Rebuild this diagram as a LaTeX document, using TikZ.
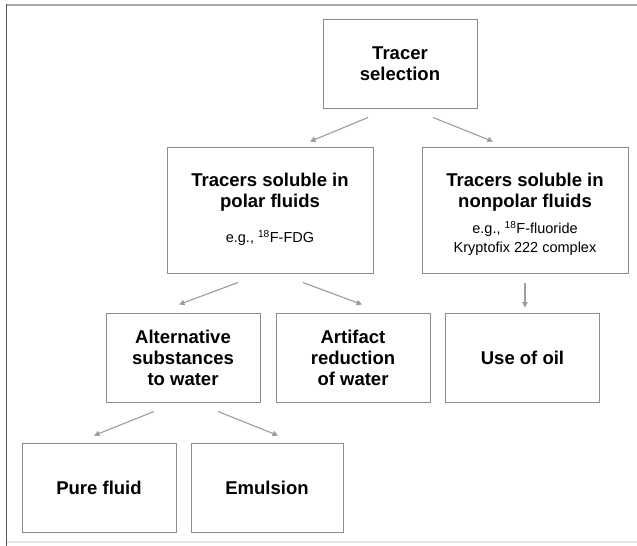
\documentclass[tikz,border=0pt]{standalone}
\usepackage{fontspec}
\setmainfont{Liberation Sans}
\usetikzlibrary{arrows.meta}
\definecolor{boxgray}{HTML}{8C8C8C}
\definecolor{arrgray}{HTML}{9C9C9C}
\definecolor{topgray}{HTML}{A8A8A8}
\definecolor{leftgray}{HTML}{555555}
\definecolor{botgray}{HTML}{E6E6E6}
\begin{document}
\begin{tikzpicture}[x=1pt,y=-1pt,
  box/.style={draw=boxgray,line width=1pt,inner sep=0pt,align=center,
    minimum width=154pt,minimum height=89pt,
    font=\fontsize{18.5}{21}\selectfont\bfseries,text=black},
  bigbox/.style={draw=boxgray,line width=1pt,inner sep=0pt,
    minimum width=206pt,minimum height=126pt},
  title/.style={align=center,inner sep=0pt,font=\fontsize{18.5}{21}\selectfont\bfseries,text=black},
  note/.style={align=center,inner sep=0pt,font=\fontsize{14.5}{19}\selectfont,text=black},
  arr/.style={draw=arrgray,line width=1.1pt,-{Triangle[length=5.5pt,width=5.5pt]}}]
\useasboundingbox (0,0) rectangle (637,546);
\fill[white] (0,0) rectangle (637,546);
% frame
\draw[topgray,line width=2.2pt] (6,5) -- (637,5);
\draw[leftgray,line width=1pt] (6.5,4) -- (6.5,546);
\draw[botgray,line width=1.5pt] (7,542) -- (637,542);
% boxes
\node[box] (tracer) at (400,63.5) {Tracer\\selection};
\node[bigbox] (polar) at (270,210) {};
\node[title] (polart) at (270,192) {Tracers soluble in\\polar fluids};
\node[note] (polarn) at (270,238) {e.g., \textsuperscript{18}F-FDG};
\node[bigbox] (nonpolar) at (525,210) {};
\node[title] (nonpolart) at (525,192) {Tracers soluble in\\nonpolar fluids};
\node[note] (nonpolarn) at (525,238.5) {e.g., \textsuperscript{18}F-fluoride\\Kryptofix 222 complex};
\node[box] (alt) at (183,357.5) {Alternative\\substances\\to water};
\node[box] (artifact) at (353,357.5) {Artifact\\reduction\\of water};
\node[box] (oil) at (522.5,357.5) {Use of oil};
\node[box] (pure) at (99,487.5) {Pure fluid};
\node[box,minimum width=152pt] (emulsion) at (267,487.5) {Emulsion};
% arrows
\draw[arr] ([xshift=-32pt,yshift=-9pt]tracer.south) -- ([xshift=40pt,yshift=5pt]polar.north);
\draw[arr] ([xshift=33pt,yshift=-9pt]tracer.south) -- ([xshift=-32pt,yshift=5pt]nonpolar.north);
\draw[arr] ([xshift=-32pt,yshift=-9pt]polar.south) -- ([xshift=-4pt,yshift=8pt]alt.north);
\draw[arr] ([xshift=33pt,yshift=-9pt]polar.south) -- ([xshift=9pt,yshift=8pt]artifact.north);
\draw[arr] ([yshift=-9pt]nonpolar.south) -- ([xshift=2.5pt,yshift=5pt]oil.north);
\draw[arr] ([xshift=-29pt,yshift=-9pt]alt.south) -- ([xshift=-5pt,yshift=7pt]pure.north);
\draw[arr] ([xshift=35pt,yshift=-9pt]alt.south) -- ([xshift=11pt,yshift=7pt]emulsion.north);
\end{tikzpicture}
\end{document}
